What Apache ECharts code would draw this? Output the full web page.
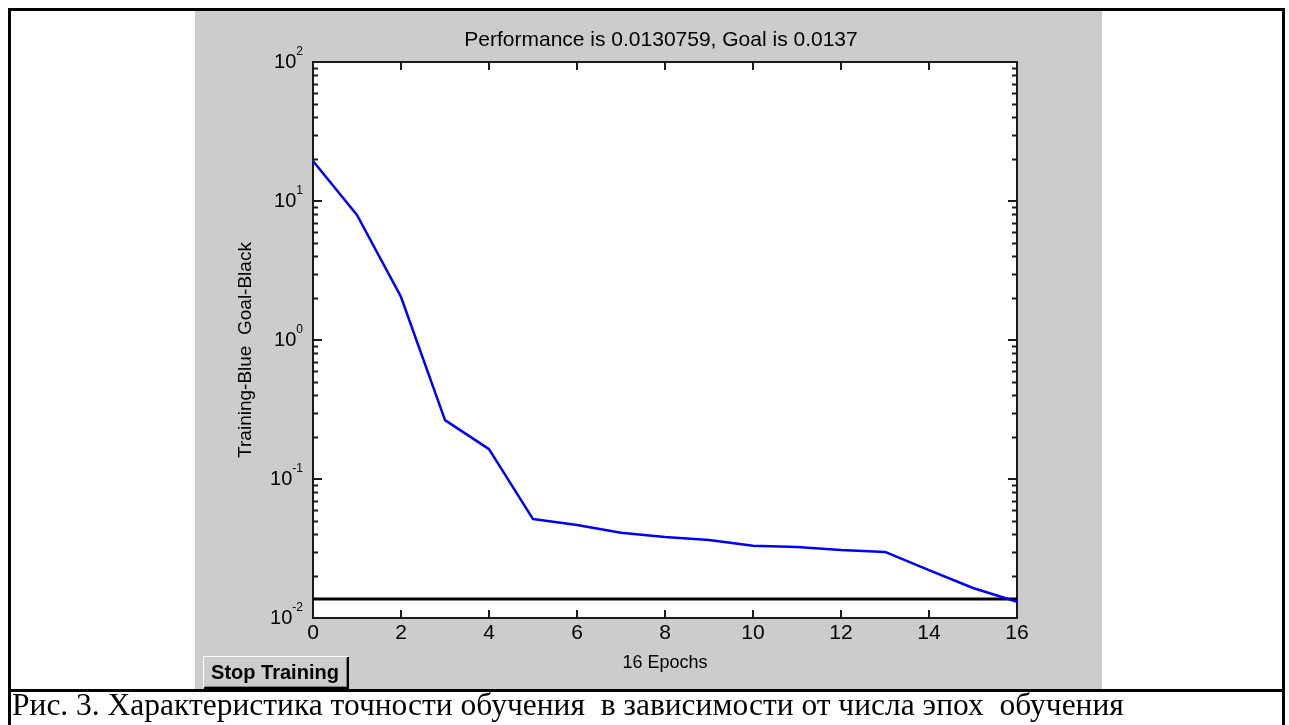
<!DOCTYPE html>
<html>
<head>
<meta charset="utf-8">
<script src="https://cdn.jsdelivr.net/npm/echarts@6/dist/echarts.min.js"></script>
<style>
  html, body { margin: 0; padding: 0; background: #ffffff; }
  #chart { width: 1289px; height: 725px; }
</style>
</head>
<body>
<div id="chart"></div>
<script>
// Training record: mean squared error per epoch (log scale)
const epochs = [0, 1, 2, 3, 4, 5, 6, 7, 8, 9, 10, 11, 12, 13, 14, 15, 16];
const trainingPerf = [19.4, 7.93, 2.04, 0.265, 0.164, 0.0515, 0.0467, 0.0411, 0.0383, 0.0364,
                      0.0331, 0.0324, 0.0308, 0.0299, 0.0221, 0.01644, 0.0130759];
const goal = 0.0137;

// Axis ticks
const xTicks = [0, 2, 4, 6, 8, 10, 12, 14, 16];
const yDecades = [-2, -1, 0, 1, 2];        // exponents of the labelled decades
const minorSteps = [2, 3, 4, 5, 6, 7, 8, 9]; // minor ticks inside each decade

const FONT = 'Liberation Sans, Arial, Helvetica, sans-serif';
const SERIF = 'Liberation Serif, Times New Roman, serif';

const chart = echarts.init(document.getElementById('chart'), null, { renderer: 'canvas' });

const trainData = epochs.map((e, i) => [e, trainingPerf[i]]);
const goalData = [[epochs[0], goal], [epochs[epochs.length - 1], goal]];

const minorData = [];
yDecades.slice(0, -1).forEach(d => minorSteps.forEach(m => minorData.push([0, m * Math.pow(10, d)])));

const xMin = xTicks[0], xMax = xTicks[xTicks.length - 1];
const yMin = Math.pow(10, yDecades[0]), yMax = Math.pow(10, yDecades[yDecades.length - 1]);

const axisLineStyle = { color: '#1a1a1a', width: 2 };
const tickStyle = { color: '#1a1a1a', width: 2 };

const yLabel = {
  margin: 10,
  fontFamily: FONT,
  formatter: v => '{b|10}{s|' + Math.round(Math.log10(v)) + '}',
  rich: {
    b: { fontSize: 20, lineHeight: 32, fontFamily: FONT, color: '#000' },
    s: { fontSize: 12, lineHeight: 12, verticalAlign: 'top', fontFamily: FONT, color: '#000' }
  }
};

const option = {
  animation: false,
  backgroundColor: '#ffffff',
  title: {
    text: 'Performance is ' + trainingPerf[trainingPerf.length - 1] + ', Goal is ' + goal,
    left: 656, top: 25, textAlign: 'center',
    textStyle: { fontFamily: FONT, fontSize: 21, fontWeight: 'normal', color: '#000' }
  },
  grid: {
    left: 313, top: 62, right: 272, bottom: 107,
    show: true, backgroundColor: '#ffffff', borderWidth: 0
  },
  xAxis: [
    {
      type: 'value', min: xMin, max: xMax, interval: 2, position: 'bottom',
      name: (epochs.length - 1) + ' Epochs', nameLocation: 'middle', nameGap: 36,
      nameTextStyle: { fontFamily: FONT, fontSize: 18, color: '#000' },
      axisLine: { onZero: false, lineStyle: axisLineStyle },
      axisTick: { inside: true, length: 8, lineStyle: tickStyle },
      axisLabel: { fontFamily: FONT, fontSize: 21, color: '#000', margin: 5 },
      splitLine: { show: false }
    },
    {
      type: 'value', min: xMin, max: xMax, interval: 2, position: 'top',
      axisLine: { onZero: false, lineStyle: axisLineStyle },
      axisTick: { inside: true, length: 8, lineStyle: tickStyle },
      axisLabel: { show: false },
      splitLine: { show: false }
    }
  ],
  yAxis: [
    {
      type: 'log', logBase: 10, min: yMin, max: yMax, position: 'left',
      name: 'Training-Blue  Goal-Black', nameLocation: 'middle', nameGap: 58, nameRotate: 90,
      nameTextStyle: { fontFamily: FONT, fontSize: 19, color: '#000', padding: [0, 20, 0, 0] },
      axisLine: { onZero: false, lineStyle: axisLineStyle },
      axisTick: { inside: true, length: 9, lineStyle: tickStyle },
      axisLabel: yLabel,
      splitLine: { show: false }
    },
    {
      type: 'log', logBase: 10, min: yMin, max: yMax, position: 'right',
      axisLine: { onZero: false, lineStyle: axisLineStyle },
      axisTick: { inside: true, length: 9, lineStyle: tickStyle },
      axisLabel: { show: false },
      splitLine: { show: false }
    }
  ],
  series: [
    {
      // minor log ticks on both vertical edges of the plot box
      type: 'custom', xAxisIndex: 0, yAxisIndex: 0, silent: true, z: 1,
      data: minorData,
      renderItem: (params, api) => {
        const cs = params.coordSys;
        const y = Math.round(api.coord([0, api.value(1)])[1]) + 0.5;
        const style = { stroke: '#1a1a1a', lineWidth: 2 };
        return {
          type: 'group',
          children: [
            { type: 'line', shape: { x1: cs.x, y1: y, x2: cs.x + 5, y2: y }, style },
            { type: 'line', shape: { x1: cs.x + cs.width - 5, y1: y, x2: cs.x + cs.width, y2: y }, style }
          ]
        };
      }
    },
    {
      name: 'Goal', type: 'line', data: goalData, showSymbol: false, silent: true,
      lineStyle: { color: '#000000', width: 3 }, z: 2
    },
    {
      name: 'Training', type: 'line', data: trainData, showSymbol: false, silent: true,
      lineStyle: { color: '#0000ff', width: 2.5 }, z: 3
    }
  ],
  graphic: [
    // grey figure window
    { type: 'rect', z: -10, shape: { x: 195, y: 11, width: 907, height: 678 }, style: { fill: '#cccccc' } },
    // outer frame and caption rule
    { type: 'rect', z: 10, shape: { x: 9.5, y: 9.5, width: 1274, height: 800 }, style: { fill: null, stroke: '#000', lineWidth: 3 } },
    { type: 'line', z: 10, shape: { x1: 9, y1: 690.5, x2: 1285, y2: 690.5 }, style: { stroke: '#000', lineWidth: 3 } },
    // Stop Training button
    {
      type: 'group', z: 10, left: 201, top: 654,
      children: [
        { type: 'rect', shape: { x: 0, y: 0, width: 146, height: 33 }, style: { fill: '#cccccc' } },
        { type: 'polyline', shape: { points: [[0.5, 32], [0.5, 0.5], [145, 0.5]] }, style: { stroke: '#ffffff', lineWidth: 1, fill: null } },
        { type: 'polyline', shape: { points: [[1, 32], [145, 32], [145, 1]] }, style: { stroke: '#000000', lineWidth: 2, fill: null } },
        { type: 'polyline', shape: { points: [[2, 30.5], [143.5, 30.5], [143.5, 2]] }, style: { stroke: '#808080', lineWidth: 1, fill: null } },
        { type: 'text', x: 72, y: 17, style: { text: 'Stop Training', fontFamily: FONT, fontSize: 20, fontWeight: 'bold', fill: '#000', align: 'center', verticalAlign: 'middle' } }
      ]
    },
    // figure caption
    {
      type: 'text', z: 10, x: 12, y: 707,
      style: {
        text: 'Рис. 3. Характеристика точности обучения  в зависимости от числа эпох  обучения',
        fontFamily: SERIF, fontSize: 31.5, fill: '#000', verticalAlign: 'middle'
      }
    }
  ]
};

chart.setOption(option);
</script>
</body>
</html>
